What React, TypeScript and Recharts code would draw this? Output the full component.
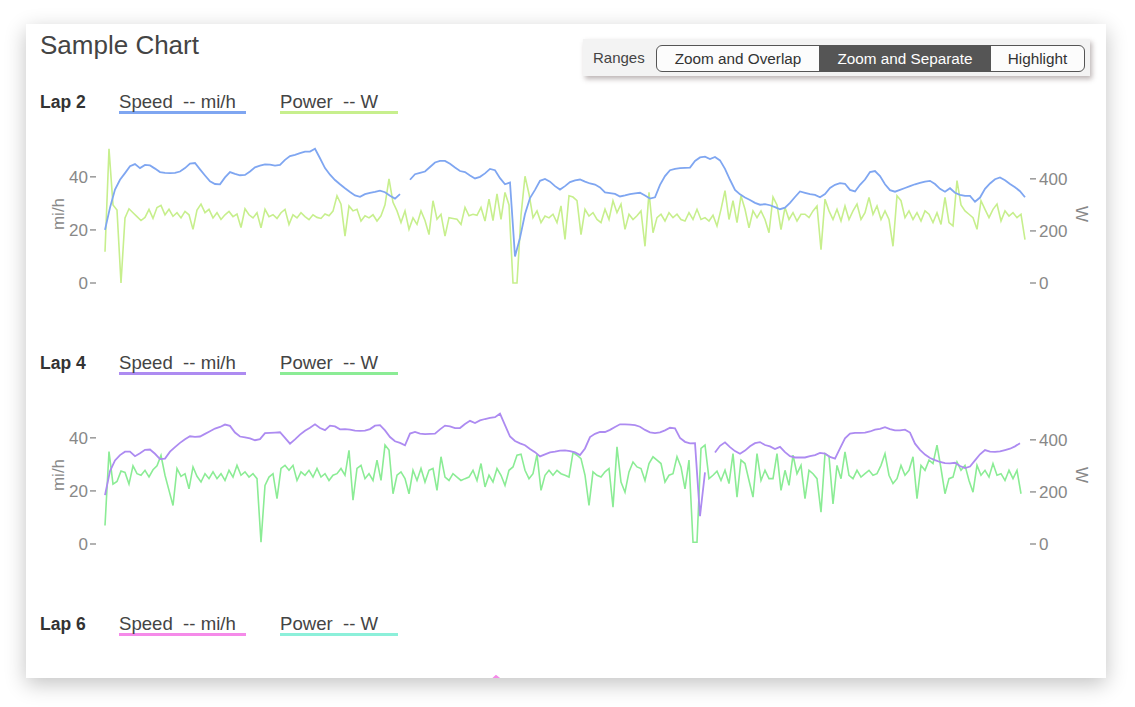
import React from "react";
import { LineChart, Line, XAxis, YAxis } from "recharts";

const FONT = "'Liberation Sans', Arial, Helvetica, sans-serif";

// lap duration in seconds, speed sampled every 5 s, power every 4 s
const LAP_SECONDS = 920;
const SPEED_STEP = 5;
const POWER_STEP = 4;
const LAP6_STEP = 23;

const speedTicks = [0, 20, 40];
const powerTicks = [0, 200, 400];
const rangeOptions = ["Zoom and Overlap", "Zoom and Separate", "Highlight"];
const lapNames = ["Lap 2", "Lap 4", "Lap 6"];

const lap2Speed = [
  20, 28.4, 35.2, 38.9, 41.4, 44, 44.8, 43.3, 44.5, 44.3,
  43.1, 41.8, 41.5, 41.4, 41.5, 42, 43.3, 45, 45.2, 42.8,
  40.5, 38.3, 37.3, 37.2, 39.8, 41.8, 41.1, 40.6, 40.7, 42,
  43.6, 44.2, 44.7, 44.6, 44.2, 44.5, 46.4, 47.8, 48.3, 48.9,
  49.5, 49.5, 50.6, 47, 43.3, 40.8, 38.8, 37.2, 35.7, 34.3,
  33, 32.5, 33.5, 34, 34.3, 34.8, 34.2, 32.9, 31.8, 33.5,
  null, 38.9, 41, 41.5, 42, 43.7, 45.4, 46, 46, 44.9,
  43.5, 42.2, 41.8, 40.5, 39.4, 40, 41.3, 43, 42.5, 39.5,
  37.2, 37.9, 10, 17, 26, 32, 35.1, 38.5, 39.2, 38.2,
  36.5, 35.2, 36.5, 38, 38.7, 39, 38.2, 37.5, 37.1, 36,
  34.1, 33.9, 33.6, 32.6, 33, 33.5, 33.8, 34, 33, 31.8,
  32.3, 37, 40.3, 42.5, 43, 43.3, 43.4, 43.5, 46, 47.3,
  47.6, 46.7, 47.5, 46.2, 43, 38.9, 35.1, 33.4, 32.2, 31.3,
  30.2, 29.5, 29.7, 29.3, 28.6, 27.8, 28.4, 30.2, 32.4, 34.5,
  34, 33.5, 33.2, 32.3, 33.5, 35.8, 37, 37.6, 37.4, 35.1,
  34.5, 37, 39, 41.8, 42.2, 40.3, 37.2, 35, 34.4, 35.1,
  35.8, 36.5, 37.2, 37.7, 38.2, 38.5, 37.3, 35.5, 34.4, 35.7,
  34, 33.2, 32.8, 32.8, 30.6, 32.2, 35.5, 37.5, 39.1, 39.8,
  38.7, 37.3, 36.1, 34.6, 32.3,
];

const lap2Power = [
  120, 515, 300, 280, 0, 250, 285, 270, 255, 240,
  252, 283, 248, 290, 298, 262, 283, 256, 270, 250,
  275, 262, 206, 280, 303, 270, 283, 250, 270, 244,
  262, 275, 255, 265, 213, 285, 262, 250, 270, 212,
  283, 255, 262, 248, 270, 283, 225, 262, 250, 270,
  255, 243, 262, 252, 248, 265, 258, 276, 335, 303,
  180, 296, 277, 283, 238, 258, 250, 262, 238, 258,
  300, 400, 310, 277, 232, 277, 206, 250, 225, 277,
  240, 186, 316, 245, 264, 180, 251, 248, 245, 225,
  290, 258, 264, 260, 290, 238, 322, 240, 342, 244,
  348, 300, 0, 0, 260, 410, 342, 251, 277, 232,
  257, 250, 264, 232, 296, 167, 335, 330, 316, 186,
  283, 257, 270, 244, 232, 283, 244, 316, 270, 303,
  206, 264, 244, 258, 277, 141, 348, 193, 251, 264,
  238, 270, 251, 264, 244, 238, 270, 244, 283, 244,
  251, 238, 260, 219, 283, 355, 244, 316, 232, 335,
  283, 212, 277, 251, 277, 244, 193, 330, 300, 205,
  290, 244, 270, 238, 264, 264, 251, 277, 296, 128,
  322, 277, 244, 283, 238, 296, 244, 277, 303, 244,
  270, 329, 264, 296, 244, 277, 244, 141, 335, 316,
  251, 277, 244, 270, 238, 277, 264, 232, 270, 225,
  329, 232, 219, 393, 300, 277, 264, 251, 206, 316,
  283, 251, 283, 303, 238, 277, 257, 270, 251, 264,
  167,
];

const lap4Speed = [
  18.4, 27.5, 31.5, 33.5, 34.8, 34.8, 33.1, 34.2, 35.5, 35.6,
  34, 32, 32.2, 34.8, 36.5, 38.1, 39.5, 40.6, 40.4, 40.5,
  41.5, 42.5, 43.5, 44.1, 45, 44.5, 42, 40.5, 40.2, 39.8,
  39.1, 39.5, 41.8, 41.9, 42, 42.1, 40, 37.8, 39.4, 41.2,
  42.7, 43.8, 45.1, 43.7, 42.9, 44.6, 44.3, 43.2, 43.3, 43.1,
  42.7, 42.6, 42.7, 43.3, 44.6, 44.8, 42.8, 40.3, 38.7, 38.1,
  37.2, 41.6, 42.2, 41.6, 41.4, 41.5, 41.6, 43.2, 44.6, 44.3,
  43.7, 43.7, 45.2, 46.4, 45.6, 46.6, 47.1, 47.5, 47.8, 49.1,
  44.8, 40.5, 38.8, 37.9, 37.2, 35.8, 34.6, 33, 33.8, 34.5,
  34.8, 35.2, 35.3, 35, 34.5, 33.5, 36, 40.3, 41.5, 42.2,
  42.2, 43, 44.1, 45.1, 45.1, 45, 44.8, 44.2, 43, 42.1,
  41.8, 42.1, 42.8, 43.8, 43.6, 40, 38.5, 37.9, 38, 10.5,
  27, null, 34.5, 37, 38.3, 36.5, 35, 34, 35.2, 36.8,
  38, 38.4, 37.3, 36.8, 35.8, 36.6, 34.6, 33.1, 32.6, 32.6,
  32.6, 33.1, 33.5, 34.3, 34.1, 32.8, 32.2, 36, 39.8, 41.6,
  41.9, 41.9, 42, 42.4, 43.1, 43.4, 44, 43.3, 42.8, 42.8,
  43.1, 42, 37.8, 35.5, 33.7, 32.4, 31.6, 30.9, 30.5, 30.4,
  30.6, 29.4, 28.6, 29.2, 31.5, 33.8, 35.4, 34.8, 34.7, 34.9,
  35.4, 35.9, 36.8, 38,
];

const lap4Power = [
  71, 355, 230, 240, 280, 275, 230, 300, 270, 264,
  283, 258, 285, 300, 340, 264, 206, 148, 290, 260,
  270, 212, 296, 260, 238, 270, 251, 277, 251, 270,
  244, 283, 257, 302, 264, 277, 257, 270, 251, 7,
  225, 257, 270, 174, 290, 302, 283, 302, 244, 277,
  264, 283, 257, 290, 257, 270, 244, 264, 270, 290,
  264, 360, 168, 290, 302, 251, 270, 244, 322, 244,
  380, 361, 193, 264, 277, 251, 193, 283, 244, 290,
  238, 283, 290, 206, 335, 257, 244, 270, 257, 244,
  251, 257, 283, 244, 309, 219, 264, 238, 290, 264,
  225, 283, 296, 341, 345, 283, 251, 270, 344, 206,
  264, 283, 264, 283, 270, 264, 257, 351, 341, 328,
  264, 148, 277, 264, 257, 277, 290, 141, 373, 238,
  199, 277, 315, 296, 290, 244, 309, 335, 322, 309,
  238, 264, 270, 335, 296, 212, 322, 7, 7, 367,
  380, 251, 264, 280, 244, 283, 232, 347, 180, 322,
  309, 244, 180, 347, 244, 283, 251, 251, 347, 206,
  283, 225, 341, 270, 302, 174, 283, 270, 251, 122,
  347, 337, 154, 302, 251, 354, 264, 251, 283, 257,
  270, 283, 264, 270, 302, 347, 264, 232, 251, 302,
  264, 283, 335, 174, 302, 283, 322, 309, 380, 290,
  193, 251, 257, 315, 283, 302, 244, 199, 302, 264,
  283, 257, 309, 264, 270, 244, 283, 251, 283, 193,
];

// lap 6 is scrolled below the card edge; only the speed peak peeks through
const lap6Speed = [
  24, 33, 37, 39, 40, 42, 41, 39, 40, 42,
  43, 42, 41, 43, 44, 45, 41, 48.6, 42, 40,
  39, 38, 36, 35, 37, 40, 42, 40, 38, 36,
  35, 36, 38, 40, 39, 37, 35, 36, 38, 39, 40,
];
const lap6Power = [
  90, 280, 265, 250, 270, 255, 245, 262, 258, 240,
  266, 252, 270, 248, 260, 255, 265, 250, 258, 244,
  262, 270, 250, 256, 268, 240, 258, 262, 250, 246,
  265, 255, 270, 250, 258, 262, 248, 256, 264, 250, 230,
];

const toSeries = (values: (number | null)[], step: number) =>
  values.map((v, i) => ({ t: i * step, v }));

const laps = [
  { name: lapNames[0], speed: toSeries(lap2Speed, SPEED_STEP), power: toSeries(lap2Power, POWER_STEP), speedColor: "#7fa6f1", powerColor: "#c7ef8d", showAxes: true },
  { name: lapNames[1], speed: toSeries(lap4Speed, SPEED_STEP), power: toSeries(lap4Power, POWER_STEP), speedColor: "#ad8bf1", powerColor: "#8bec95", showAxes: true },
  { name: lapNames[2], speed: toSeries(lap6Speed, LAP6_STEP), power: toSeries(lap6Power, LAP6_STEP), speedColor: "#f58ae9", powerColor: "#8cf0da", showAxes: false },
];

const leftTick = (props: any) => {
  const { x, y, payload } = props;
  return (
    <g>
      <line x1={x - 15} x2={x - 9} y1={y} y2={y} stroke="#888" strokeWidth={1.3} />
      <text x={x - 17} y={y} dy="0.35em" textAnchor="end" fill="#888" fontSize={17} fontFamily={FONT}>
        {payload.value}
      </text>
    </g>
  );
};

const rightTick = (props: any) => {
  const { x, y, payload } = props;
  return (
    <g>
      <line x1={x + 5} x2={x + 11} y1={y} y2={y} stroke="#888" strokeWidth={1.3} />
      <text x={x + 14} y={y} dy="0.35em" textAnchor="start" fill="#888" fontSize={17} fontFamily={FONT}>
        {payload.value}
      </text>
    </g>
  );
};

const axisTitle = (text: string, side: "left" | "right") => (props: any) => {
  const vb = props.viewBox || {};
  const cx = side === "left" ? vb.x + vb.width - 47 : vb.x + 57;
  const cy = vb.y + vb.height / 2;
  return (
    <text x={cx} y={cy} dy="0.35em" textAnchor="middle" fill="#888" fontSize={17} fontFamily={FONT}
      transform={`rotate(${side === "left" ? -90 : 90} ${cx} ${cy})`}>
      {text}
    </text>
  );
};

function LapBlock({ lap, index }: { lap: (typeof laps)[number]; index: number }) {
  const rowTop = 69 + index * 261;
  const chartTop = 111 + index * 261;
  const legend = [
    { label: "Speed  -- mi/h", color: lap.speedColor, left: 93, width: 127 },
    { label: "Power  -- W", color: lap.powerColor, left: 254, width: 118 },
  ];
  return (
    <>
      <div style={{ position: "absolute", left: 14, top: rowTop, fontSize: 17.5, lineHeight: "18px", fontWeight: 700, color: "#333" }}>
        {lap.name}
      </div>
      {legend.map((item) => (
        <div key={item.label} style={{
          position: "absolute", left: item.left, top: rowTop, width: item.width, fontSize: 18.6, lineHeight: "18px",
          color: "#444", whiteSpace: "pre", borderBottom: `3px solid ${item.color}`,
        }}>
          {item.label}
        </div>
      ))}
      <div style={{ position: "absolute", left: 0, top: chartTop }}>
        <LineChart width={1080} height={158} margin={{ top: 10, right: 0, bottom: 10, left: 0 }}>
          <XAxis type="number" dataKey="t" domain={[0, LAP_SECONDS]} hide height={0} />
          <YAxis yAxisId="speed" orientation="left" width={79} domain={[0, 52]} ticks={speedTicks} interval={0}
            axisLine={false} tickLine={false} tickSize={0} tickMargin={0} tick={lap.showAxes ? leftTick : false}
            label={lap.showAxes ? axisTitle("mi/h", "left") : undefined} />
          <YAxis yAxisId="power" orientation="right" width={81} domain={[0, 530]} ticks={powerTicks} interval={0}
            axisLine={false} tickLine={false} tickSize={0} tickMargin={0} tick={lap.showAxes ? rightTick : false}
            label={lap.showAxes ? axisTitle("W", "right") : undefined} />
          <Line yAxisId="power" data={lap.power} dataKey="v" type="linear" stroke={lap.powerColor} strokeWidth={1.6}
            dot={false} activeDot={false} isAnimationActive={false} />
          <Line yAxisId="speed" data={lap.speed} dataKey="v" type="linear" stroke={lap.speedColor} strokeWidth={1.8}
            dot={false} activeDot={false} isAnimationActive={false} connectNulls={false} />
        </LineChart>
      </div>
    </>
  );
}

export default function App() {
  return (
    <div style={{ position: "absolute", left: 0, top: 0, width: 1135, height: 707, background: "#fff", fontFamily: FONT }}>
      <div style={{
        position: "absolute", left: 26, top: 24, width: 1080, height: 654, background: "#fff",
        boxShadow: "0 6px 20px rgba(0,0,0,0.24)", overflow: "hidden",
      }}>
        <div style={{ position: "absolute", left: 14, top: 6, fontSize: 26, lineHeight: "30px", color: "#444" }}>
          Sample Chart
        </div>
        <div style={{
          position: "absolute", left: 557, top: 15, width: 507, height: 37, background: "#f3f3f3",
          boxShadow: "2px 3px 5px rgba(90,70,70,0.4)",
        }}>
          <span style={{ position: "absolute", left: 10, top: 10, fontSize: 15, lineHeight: "18px", color: "#444" }}>Ranges</span>
          <div style={{
            position: "absolute", left: 73, top: 6, width: 429, height: 27, boxSizing: "border-box",
            border: "1px solid #555", borderRadius: 6, overflow: "hidden", display: "flex", background: "#fcfcfc",
          }}>
            {rangeOptions.map((opt, i) => (
              <div key={opt} style={{
                width: [162, 172, 93][i], textAlign: "center", fontSize: 15.3, lineHeight: "25px",
                background: i === 1 ? "#555" : "transparent", color: i === 1 ? "#fff" : "#333",
              }}>
                {opt}
              </div>
            ))}
          </div>
        </div>
        {laps.map((lap, i) => (
          <LapBlock key={lap.name} lap={lap} index={i} />
        ))}
      </div>
    </div>
  );
}
